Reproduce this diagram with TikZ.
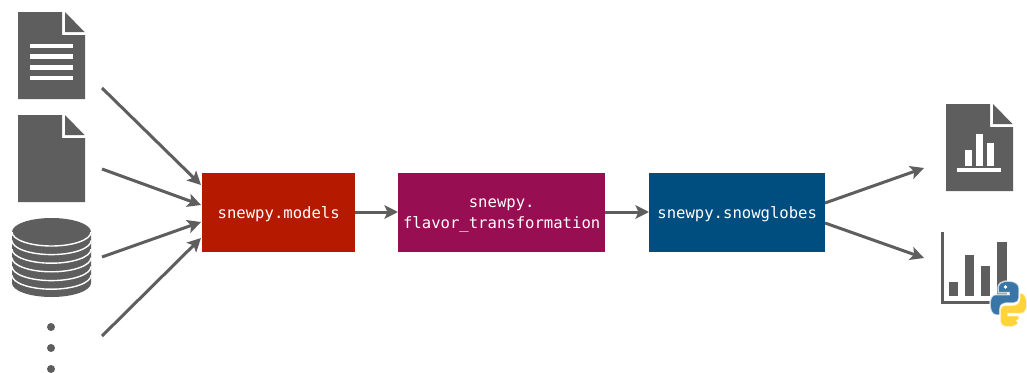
\documentclass[tikz,border=0pt]{standalone}
\usepackage{fontspec}
\setmonofont{DejaVu Sans Mono}
\usetikzlibrary{arrows.meta}
\definecolor{icongray}{HTML}{5E5E5E}
\definecolor{modred}{HTML}{B51A00}
\definecolor{flavpurple}{HTML}{970E53}
\definecolor{snowblue}{HTML}{004D7F}
\definecolor{pyblue}{HTML}{3A75A8}
\definecolor{pyyellow}{HTML}{FFD43B}
\tikzset{
  modbox/.style={draw=none,inner sep=0pt,text=white,font=\ttfamily\fontsize{15.6}{21}\selectfont,align=center,anchor=north west},
  conn/.style={draw=icongray,line width=3pt,-{Stealth[length=13.5pt,width=13.5pt,inset=3pt]}},
  halo/.style={draw=white,draw opacity=0.7,line width=1.5pt}
}
\newcommand{\docicon}[3]{%
  \fill[icongray] (#1,#2) -- (#1+44,#2) -- (#1+44,#2+23) -- (#1+67,#2+23) -- (#1+67,#2+#3) -- (#1,#2+#3) -- cycle;
  \fill[icongray] (#1+47,#2) -- (#1+66.5,#2+20) -- (#1+47,#2+20) -- cycle;
}
\begin{document}
\begin{tikzpicture}[x=1pt,y=-1pt]
\useasboundingbox (0,0) rectangle (1027,372);
\fill[white] (0,0) rectangle (1027,372);
% documents
\docicon{18}{12}{87}
\foreach \yy in {43.5,54.3,65.2,76}{\fill[white] (30,\yy) rectangle (73,\yy+4.4);}
\docicon{18}{115}{87}
% database
\fill[icongray] (12,232) arc[start angle=180,end angle=360,x radius=39.5,y radius=14] -- (91,283)
  arc[start angle=0,end angle=180,x radius=39.5,y radius=14] -- cycle;
\foreach \cc in {232,240.6,249.2,257.8,266.6,275.2}{
  \draw[white,line width=1.4pt] (12,\cc) arc[start angle=180,end angle=0,x radius=39.5,y radius=14];}
% dots
\foreach \yy in {327,348,369}{\fill[icongray] (51,\yy) circle[radius=4];}
% boxes
\fill[modred] (202,173) rectangle (355,252);
\fill[flavpurple] (398,173) rectangle (605,252);
\fill[snowblue] (649,173) rectangle (825,252);
\node[modbox,minimum width=153pt,minimum height=79pt] (models) at (202,174.5) {snewpy.models};
\node[modbox,minimum width=207pt,minimum height=79pt] (flavor) at (398,176) {snewpy.\\flavor\_transformation};
\node[modbox,minimum width=176pt,minimum height=79pt] (snow) at (649,174.5) {snewpy.snowglobes};
% report
\docicon{946}{104}{87}
\fill[white] (964.5,150) rectangle (972,165.5);
\fill[white] (975.5,133.7) rectangle (983,165.5);
\fill[white] (986.7,142.7) rectangle (994.3,165.5);
\fill[white] (957.3,168.3) rectangle (1001,172.3);
% chart
\fill[icongray] (940.7,232) rectangle (944,304);
\fill[icongray] (940.7,301) rectangle (1002,304);
\fill[icongray] (949,282.3) rectangle (958,295.7);
\fill[icongray] (965,255) rectangle (974,295.7);
\fill[icongray] (981.3,265.7) rectangle (990.3,295.7);
\fill[icongray] (997.3,242.3) rectangle (1006.7,295.7);
% python logo
\filldraw[fill=pyblue,halo] (1008.5,281) .. controls (1001,281) and (998,284) .. (998,288) -- (998,292.5) -- (1009,292.5) -- (1009,294.5) -- (996,294.5)
  .. controls (992,294.5) and (990,298) .. (990,304) .. controls (990,310) and (992,315) .. (996,315) -- (1000,315) -- (1000,309)
  .. controls (1000,305) and (1003,303) .. (1006,303) -- (1014,303) .. controls (1017,303) and (1019,301) .. (1019,298) -- (1019,288)
  .. controls (1019,284) and (1015,281) .. (1008.5,281) -- cycle;
\fill[white] (1005.5,287) circle[radius=1.8];
\filldraw[fill=pyyellow,halo] (1008.5,327) .. controls (1016,327) and (1019,324) .. (1019,320) -- (1019,315.5) -- (1008,315.5) -- (1008,313.5) -- (1021,313.5)
  .. controls (1025,313.5) and (1027,310) .. (1027,304) .. controls (1027,298) and (1025,293) .. (1021,293) -- (1019.5,293) -- (1019.5,299)
  .. controls (1019.5,303) and (1016,305) .. (1013,305) -- (1005,305) .. controls (1002,305) and (1000,307) .. (1000,310) -- (1000,320)
  .. controls (1000,324) and (1002,327) .. (1008.5,327) -- cycle;
\fill[white] (1018,321) circle[radius=1.8];
% connector ends
\coordinate (s1) at (102,88);
\coordinate (s2) at (102,169);
\coordinate (s3) at (102,257);
\coordinate (s4) at (102,336);
\coordinate (t1) at (201,185);
\coordinate (t2) at (201,205);
\coordinate (t3) at (201,222);
\coordinate (t4) at (201,238);
\coordinate (r1) at (825,203);
\coordinate (r2) at (825,223);
\coordinate (e1) at (924,168);
\coordinate (e2) at (924,258);
\draw[conn] (s1) -- (t1);
\draw[conn] (s2) -- (t2);
\draw[conn] (s3) -- (t3);
\draw[conn] (s4) -- (t4);
\draw[conn] (models.east |- 0,212) -- (flavor.west |- 0,212);
\draw[conn] (flavor.east |- 0,212) -- (snow.west |- 0,212);
\draw[conn] (r1) -- (e1);
\draw[conn] (r2) -- (e2);
\end{tikzpicture}
\end{document}
